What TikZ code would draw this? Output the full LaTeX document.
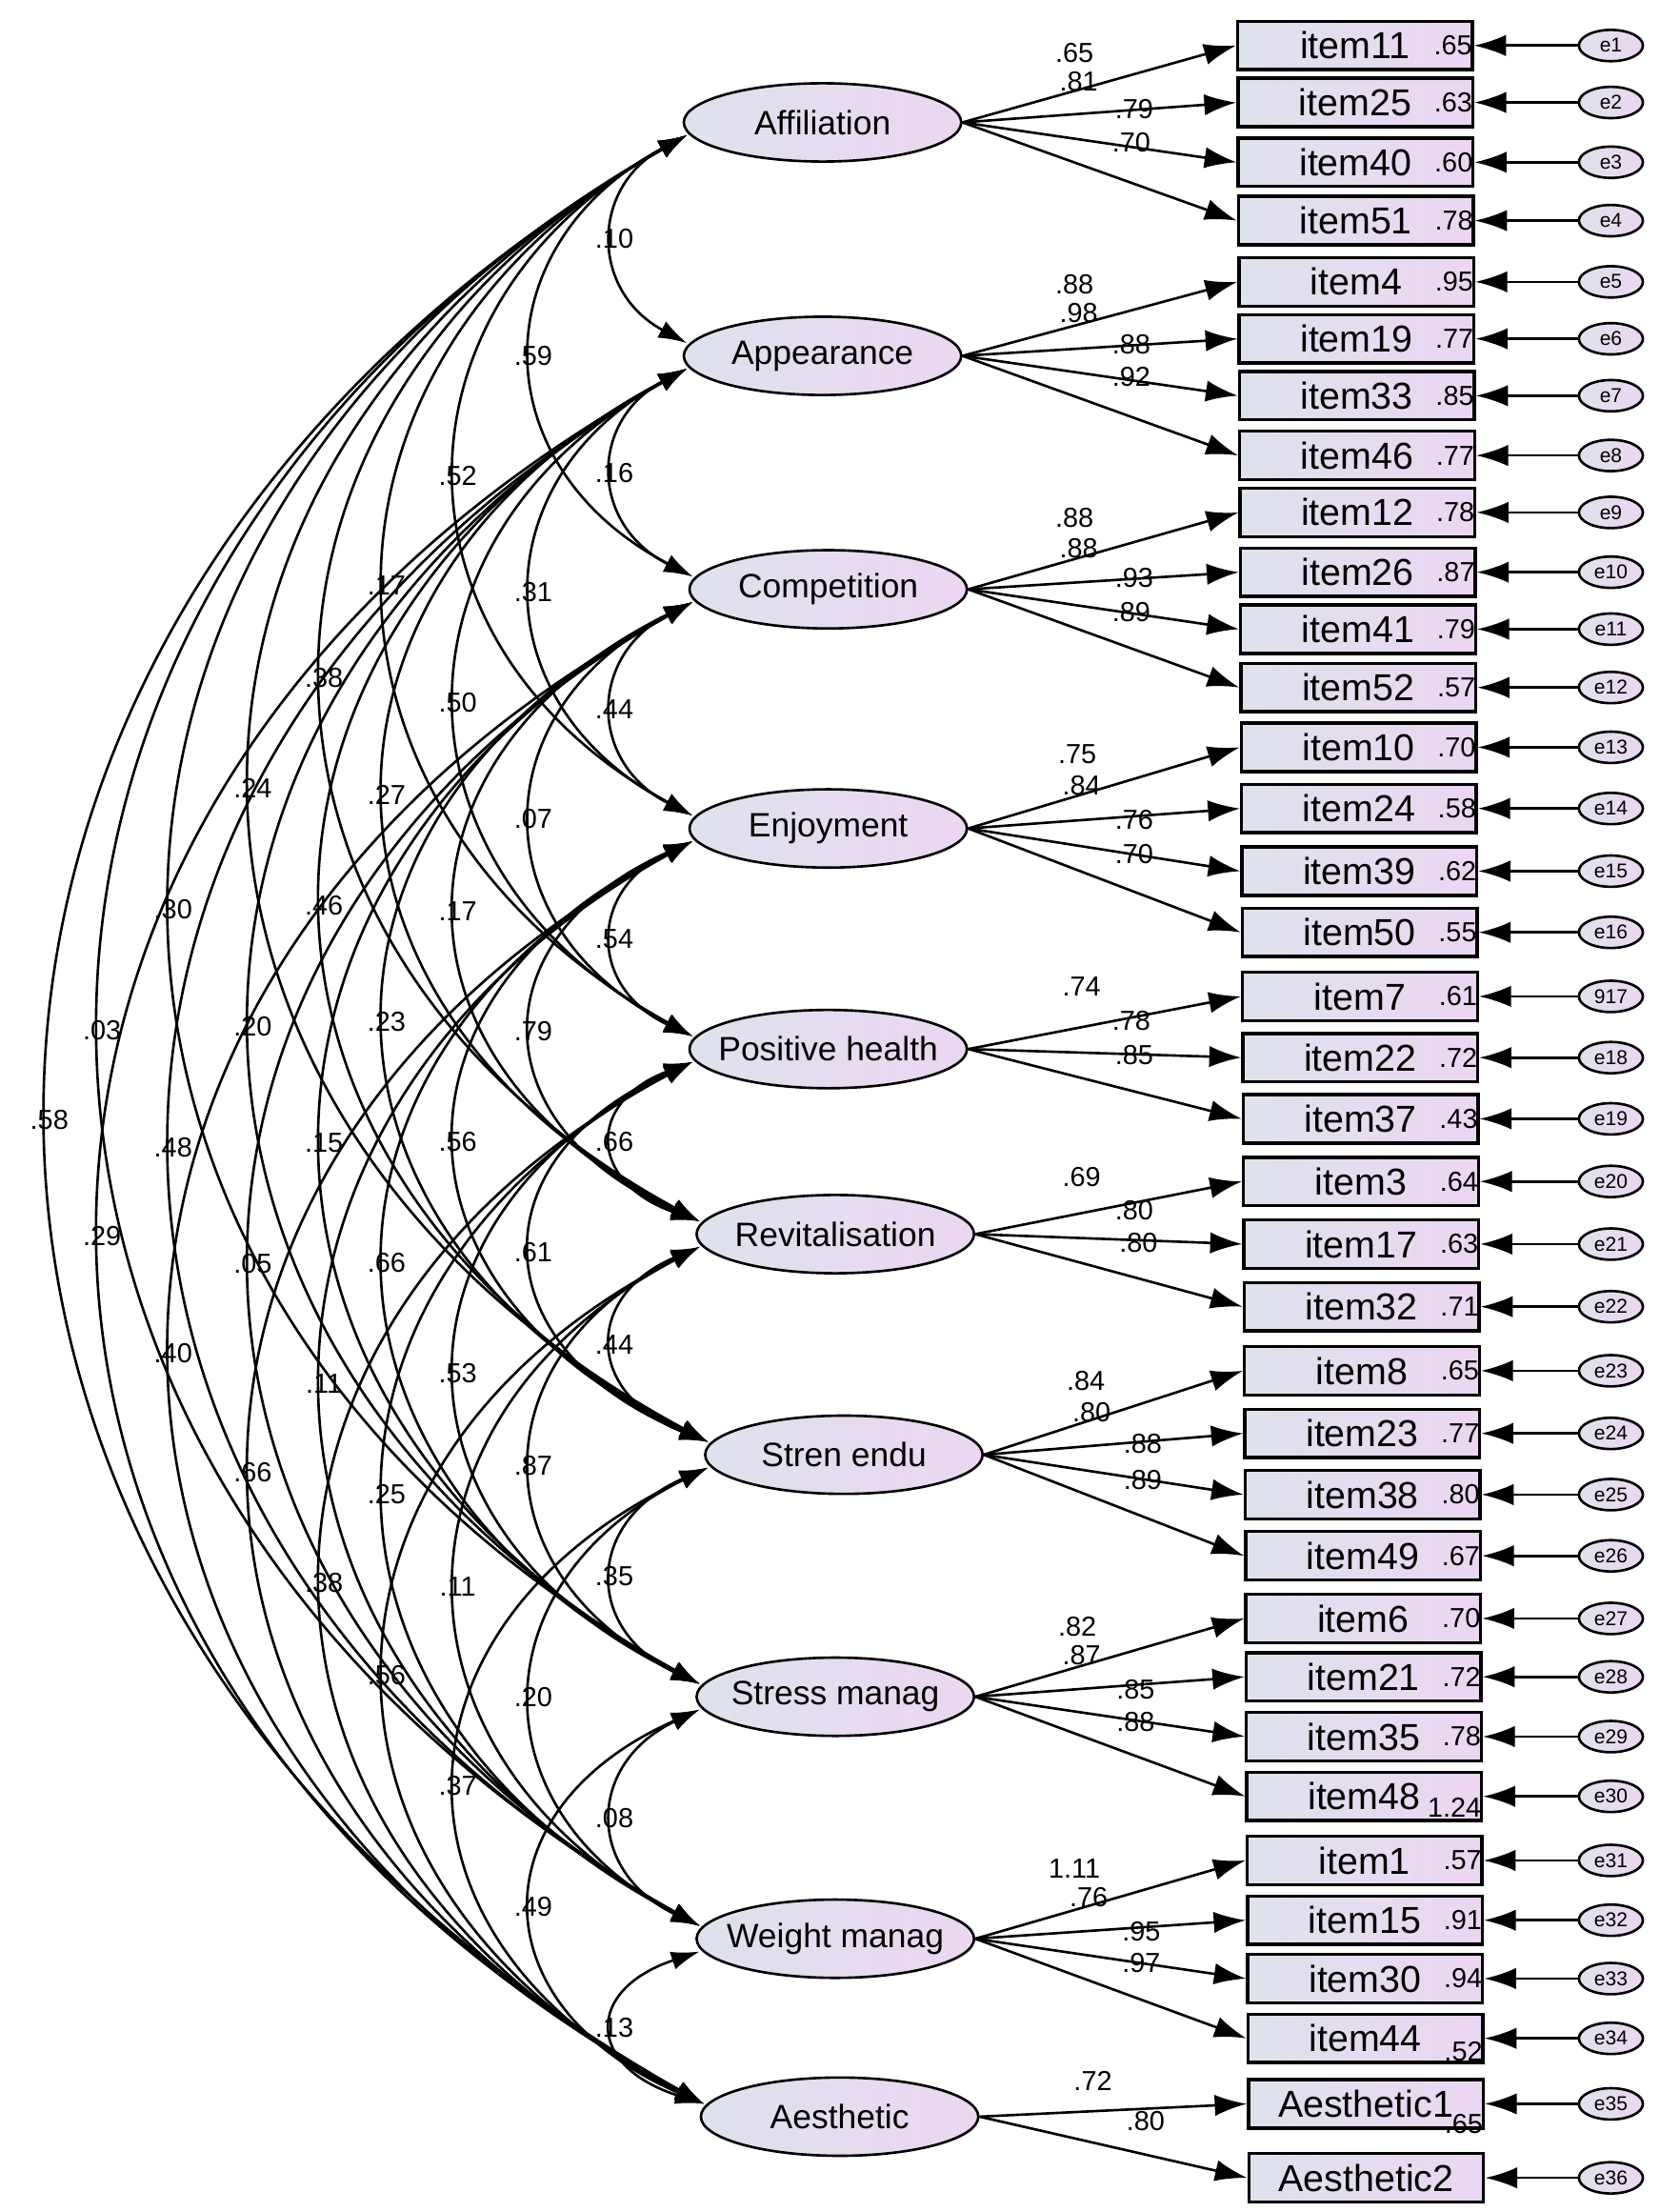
\documentclass[tikz,border=0pt]{standalone}
\usepackage{fontspec}
\setmainfont{Liberation Sans}
\usetikzlibrary{shapes.geometric,arrows.meta,calc}
\definecolor{lgrey}{RGB}{222,226,236}
\definecolor{lpink}{RGB}{236,214,242}
\tikzstyle{latent}=[ellipse,draw,line width=1pt,minimum width=3.9cm,minimum height=1.1cm,inner sep=0pt,left color=lgrey,right color=lpink]
\tikzstyle{ltext}=[inner sep=0pt,font=\fontsize{13.5}{15}\selectfont]
\tikzstyle{obs}=[rectangle,draw,line width=1.3pt,minimum width=3.3cm,minimum height=0.68cm,inner sep=0pt,left color=lgrey,right color=lpink,font=\fontsize{15}{17}\selectfont]
\tikzstyle{err}=[ellipse,draw,line width=1pt,minimum width=0.9cm,minimum height=0.44cm,inner sep=0pt,left color=lgrey,right color=lpink,font=\fontsize{8}{9}\selectfont]
\tikzstyle{val}=[inner sep=0pt,font=\fontsize{11}{12}\selectfont]
\tikzstyle{arr}=[line width=1pt,-{Latex[length=4.5mm,width=3mm]}]
\tikzstyle{cov}=[line width=1pt,{Latex[length=4mm,width=2.6mm]}-{Latex[length=4mm,width=2.6mm]}]
\def\fy{{86,250,414,582,737,867,1022,1192,1362,1487}}
\def\fx{{578,578,582,582,582,587,593,587,587,590}}
\begin{document}
\begin{tikzpicture}[x=0.02cm,y=-0.02cm]
\useasboundingbox (0,0) rectangle (1180,1554);
% factors
\foreach \i/\x/\y/\t in {1/578/86/Affiliation,2/578/250/Appearance,3/582/414/Competition,4/582/582/Enjoyment,5/582/737/Positive health,6/587/867/Revitalisation,7/593/1022/Stren endu,8/587/1192/Stress manag,9/587/1362/Weight manag,10/590/1487/Aesthetic}{
  \node[latent] (f\i) at (\x,\y) {};
  \node[ltext] (t\i) at (f\i) {\t};
}
% covariances, grouped by distance between factors
\foreach \g/\xm/\vals in {1/432/{.10,.16,.44,.54,.66,.44,.35,.08,.13},
  2/375/{.59,.31,.07,.79,.61,.87,.20,.49},
  3/322/{.52,.50,.17,.56,.53,.11,.37},
  4/272/{.17,.27,.23,.66,.25,.56},
  5/228/{.38,.46,.15,.11,.38},
  6/178/{.24,.20,.05,.66},
  7/122/{.30,.48,.40},
  8/72/{.03,.29},
  9/35/{.58}}{
  \foreach \v [count=\i] in \vals {
    \pgfmathtruncatemacro{\j}{\i+\g}
    \pgfmathsetmacro{\ya}{\fy[\i-1]+9}
    \pgfmathsetmacro{\yb}{\fy[\j-1]-9}
    \pgfmathsetmacro{\cx}{(8*\xm-(\fx[\i-1]-94)-(\fx[\j-1]-94))/6}
    \pgfmathsetmacro{\yc}{\ya+0.25*(\yb-\ya)}
    \pgfmathsetmacro{\yd}{\yb-0.25*(\yb-\ya)}
    \draw[cov] ($(f\i.west)+(3,9)$) .. controls (\cx,\yc) and (\cx,\yd) .. ($(f\j.west)+(3,-9)$) node[val,pos=.5] {\v};
  }
}
% indicators
\foreach \n/\t/\y/\v/\vo/\f/\l/\lx/\ly/\e in {
  1/item11/32/.65/0/1/.65/755/37/e1, 2/item25/72/.63/0/1/.81/758/57/e2,
  3/item40/114/.60/0/1/.79/797/77/e3, 4/item51/155/.78/0/1/.70/795/100/e4,
  5/item4/198/.95/0/2/.88/755/200/e5, 6/item19/238/.77/0/2/.98/758/220/e6,
  7/item33/278/.85/0/2/.88/795/242/e7, 8/item46/320/.77/0/2/.92/795/265/e8,
  9/item12/360/.78/0/3/.88/755/364/e9, 10/item26/402/.87/0/3/.88/758/385/e10,
  11/item41/442/.79/0/3/.93/797/406/e11, 12/item52/483/.57/0/3/.89/795/430/e12,
  13/item10/525/.70/0/4/.75/757/530/e13, 14/item24/568/.58/0/4/.84/760/552/e14,
  15/item39/612/.62/0/4/.76/797/576/e15, 16/item50/655/.55/0/4/.70/797/600/e16,
  17/item7/700/.61/0/5/.74/760/693/917, 18/item22/743/.72/0/5/.78/795/717/e18,
  19/item37/786/.43/0/5/.85/797/741/e19,
  20/item3/830/.64/0/6/.69/760/827/e20, 21/item17/874/.63/0/6/.80/797/850/e21,
  22/item32/918/.71/0/6/.80/800/873/e22,
  23/item8/963/.65/0/7/.84/763/970/e23, 24/item23/1007/.77/0/7/.80/767/992/e24,
  25/item38/1050/.80/0/7/.88/803/1014/e25, 26/item49/1093/.67/0/7/.89/803/1040/e26,
  27/item6/1137/.70/0/8/.82/757/1143/e27, 28/item21/1178/.72/0/8/.87/760/1163/e28,
  29/item35/1220/.78/0/8/.85/798/1187/e29, 30/item48/1262/1.24/8/8/.88/798/1210/e30,
  31/item1/1307/.57/0/9/1.11/755/1313/e31, 32/item15/1349/.91/0/9/.76/765/1333/e32,
  33/item30/1390/.94/0/9/.95/802/1357/e33, 34/item44/1432/.52/9/9/.97/802/1379/e34,
  35/Aesthetic1/1478/.65/14/10/.72/768/1462/e35, 36/Aesthetic2/1530//0/10/.80/805/1490/e36}{
  \pgfmathsetmacro{\bx}{952+8*\y/1530}
  \node[obs] (b\n) at (\bx,\y) {\t};
  \node[val,anchor=east] (v\n) at ($(b\n.east)+(-1,\vo)$) {\v};
  \node[err] (e\n) at (1132,\y) {\e};
  \draw[arr] (f\f.east) -- (b\n.west);
  \draw[arr] (e\n.west) -- (b\n.east);
  \node[val] (l\n) at (\lx,\ly) {\l};
}
\end{tikzpicture}
\end{document}
